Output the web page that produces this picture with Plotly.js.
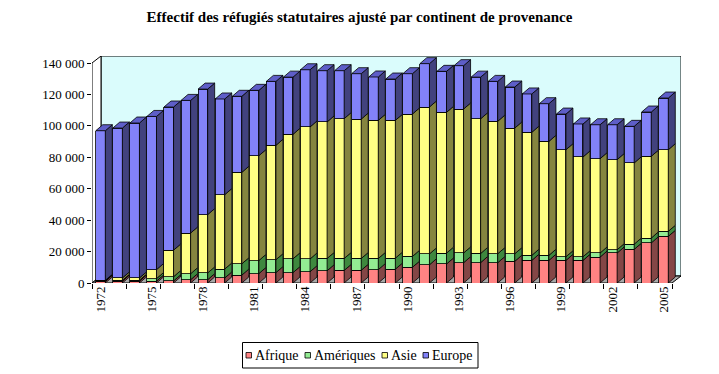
<!DOCTYPE html>
<html><head><meta charset="utf-8">
<script src="https://cdn.plot.ly/plotly-3.0.1.min.js"></script>
<style>html,body{margin:0;padding:0;background:#fff}</style>
</head><body><div id="chart" style="width:719px;height:374px"></div>
<script>
// ---- data ----
const years = [1972,1973,1974,1975,1976,1977,1978,1979,1980,1981,1982,1983,1984,1985,1986,1987,1988,1989,1990,1991,1992,1993,1994,1995,1996,1997,1998,1999,2000,2001,2002,2003,2004,2005];
const afrique   = [1000,1200,1200,1200,1300,2100,2100,3200,5000,6000,6600,6600,7200,7800,8000,8100,8500,8800,10000,11600,12100,12900,13000,12900,13800,14400,14400,14400,14400,16500,19100,21400,25500,29700];
const ameriques = [400,500,600,1600,2700,3800,4300,5700,7200,8300,8200,8800,8100,7800,7600,7500,7100,7000,6900,6900,6900,6200,5800,5700,4800,3200,3200,2300,2300,2600,2100,3300,3100,3200];
const asie      = [300,1500,1400,5700,16900,25900,37100,47300,58200,66700,72800,79200,84000,86900,89000,88700,87900,87700,90600,93500,89600,91600,85700,84300,80000,78300,72500,68100,63500,60000,57300,51700,52000,51900];
const europe    = [95200,95400,98600,97500,91100,84400,79900,60900,48400,41600,40700,36400,36400,32600,30500,28900,27600,26300,25700,27600,26100,27600,26500,25400,26100,24400,24000,22700,21000,21600,22200,23300,28200,32900];
const seriesNames = ['Afrique','Amériques','Asie','Europe'];
const tickYears = [1972,1975,1978,1981,1984,1987,1990,1993,1996,1999,2002,2005];
const yTicks = [0,20000,40000,60000,80000,100000,120000,140000];

// ---- styling ----
const frontColors = ['#ff8383','#93ec93','#ffff84','#8282f8'];
const sideColors  = ['#844646','#3e883e','#85853f','#42427e'];
const topColor    = '#5e5ec8';
const serif = 'Liberation Serif';

// ---- geometry (pixels -> data units) ----
const L = 92, R = 38, T = 56, B = 91, W = 719 - L - R, H = 374 - T - B;
const pxPerYear = 17.06, yPerPx = 140000 / 220;
const xMin = 1971.5, xFront = 2005.5;
const xMax = xMin + W / pxPerYear, yMax = H * yPerPx, yTop = 140000;
const dxW = 9 / pxPerYear, dyW = 7 * yPerPx;      // wall depth
const dxB = 7 / pxPerYear, dyB = 6 * yPerPx;      // bar depth
const barW = 0.56;

const series = [afrique, ameriques, asie, europe];
const traces = [];
series.forEach((vals, s) => {
  traces.push({
    type: 'bar', x: years, y: vals, name: seriesNames[s], width: barW,
    marker: {color: frontColors[s], line: {color: '#000', width: 0.8}},
    showlegend: false, hoverinfo: 'x+y+name'
  });
});
// side faces (depth) computed from the same values
const cum = years.map(() => 0);
series.forEach((vals, s) => {
  const xs = [], ys = [];
  years.forEach((yr, i) => {
    const b = cum[i], t = b + vals[i], xr = yr + barW / 2;
    xs.push(xr, xr + dxB, xr + dxB, xr, xr, null);
    ys.push(b, b + dyB, t + dyB, t, b, null);
    cum[i] = t;
  });
  traces.push({type: 'scatter', mode: 'lines', x: xs, y: ys, fill: 'toself',
    fillcolor: sideColors[s], line: {color: '#000', width: 0.8},
    showlegend: false, hoverinfo: 'skip'});
});
// top faces
{
  const xs = [], ys = [];
  years.forEach((yr, i) => {
    const t = cum[i], xl = yr - barW / 2, xr = yr + barW / 2;
    xs.push(xl, xl + dxB, xr + dxB, xr, xl, null);
    ys.push(t, t + dyB, t + dyB, t, t, null);
  });
  traces.push({type: 'scatter', mode: 'lines', x: xs, y: ys, fill: 'toself',
    fillcolor: topColor, line: {color: '#000', width: 0.8},
    showlegend: false, hoverinfo: 'skip'});
}

// chart frame (walls, floor)
const shapes = [
  {type: 'rect', xref: 'x', yref: 'y', layer: 'below', x0: xMin + dxW, x1: xFront + dxW, y0: dyW, y1: yTop + dyW,
   fillcolor: '#dafcfc', line: {color: '#000', width: 1}},
  {type: 'path', xref: 'x', yref: 'y', layer: 'below',
   path: `M${xMin},0 L${xMin + dxW},${dyW} L${xMin + dxW},${yTop + dyW} L${xMin},${yTop} Z`,
   fillcolor: '#ffffff', line: {color: '#000', width: 1}},
  {type: 'path', xref: 'x', yref: 'y', layer: 'below',
   path: `M${xMin},0 L${xFront},0 L${xFront + dxW},${dyW} L${xMin + dxW},${dyW} Z`,
   fillcolor: '#a8a8a8', line: {color: '#000', width: 1}}
];

// custom legend (small squares + text) in pixel positions
const pxX = p => (p - L) / W, pxY = p => (T + H - p) / H;
const annotations = [];
const legSq = [246, 305, 382, 423], legTx = [254.5, 313.5, 390.5, 431.5];
const legY = 355;
shapes.push({type: 'rect', xref: 'paper', yref: 'paper', x0: pxX(242.5), x1: pxX(478), y0: pxY(368), y1: pxY(342.5),
  line: {color: '#000', width: 1}, fillcolor: 'rgba(0,0,0,0)'});
seriesNames.forEach((n, s) => {
  shapes.push({type: 'rect', xref: 'paper', yref: 'paper', x0: pxX(legSq[s]), x1: pxX(legSq[s] + 5.5),
    y0: pxY(legY + 3), y1: pxY(legY - 2.5), fillcolor: frontColors[s], line: {color: '#000', width: 0.8}});
  annotations.push({xref: 'paper', yref: 'paper', x: pxX(legTx[s] - 2), y: pxY(legY), xanchor: 'left', yanchor: 'middle',
    text: n, showarrow: false, font: {family: serif, size: 14, color: '#000'}});
});

const layout = {
  width: 719, height: 374,
  margin: {l: L, r: R, t: T, b: B, pad: 0},
  paper_bgcolor: '#fff', plot_bgcolor: 'rgba(0,0,0,0)',
  separators: ', ',
  font: {family: serif, color: '#000'},
  barmode: 'stack', showlegend: false,
  title: {text: '<b>Effectif des réfugiés statutaires ajusté par continent de provenance</b>',
    font: {family: serif, size: 15, color: '#000'}, x: 0.5, xref: 'container', xanchor: 'center',
    y: 1 - 17 / 374, yref: 'container', yanchor: 'middle'},
  xaxis: {range: [xMin, xMax], tickmode: 'array', tickvals: tickYears, ticktext: tickYears.map(String),
    tickangle: -90, ticks: '', showgrid: false, zeroline: false, showline: false,
    tickfont: {family: serif, size: 13, color: '#000'},
    minor: {tickmode: 'linear', tick0: xMin, dtick: 2, ticks: 'outside', ticklen: 5, tickcolor: '#000', tickwidth: 1, showgrid: false}},
  yaxis: {range: [0, yMax], tickmode: 'array', tickvals: yTicks, tickformat: ',d',
    ticks: 'outside', ticklen: 4, tickcolor: '#000', showgrid: false, zeroline: false, showline: false,
    tickfont: {family: serif, size: 13, color: '#000'}},
  shapes: shapes, annotations: annotations
};
Plotly.newPlot('chart', traces, layout, {displayModeBar: false, staticPlot: true});
</script></body></html>
